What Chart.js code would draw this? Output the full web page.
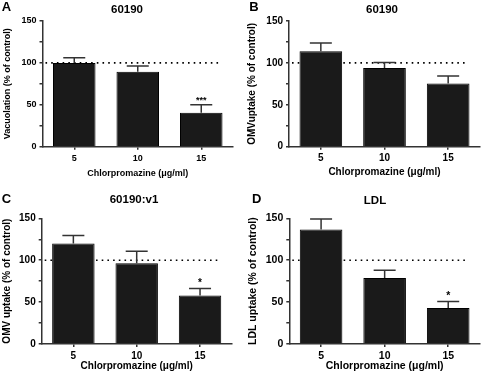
<!DOCTYPE html>
<html>
<head>
<meta charset="utf-8">
<script src="https://cdn.jsdelivr.net/npm/chart.js@4/dist/chart.umd.min.js"></script>
<style>
    html, body { margin: 0; padding: 0; background: #fff; }
    #figure { position: relative; width: 481px; height: 375px; }
    .panel { position: absolute; }
</style>
</head>
<body>
<div id="figure">
    <div class="panel" style="left:0;top:0"><canvas id="panelA" width="240" height="187"></canvas></div>
    <div class="panel" style="left:240px;top:0"><canvas id="panelB" width="241" height="187"></canvas></div>
    <div class="panel" style="left:0;top:187px"><canvas id="panelC" width="240" height="188"></canvas></div>
    <div class="panel" style="left:240px;top:187px"><canvas id="panelD" width="241" height="188"></canvas></div>
</div>
<script>
// chlorpromazine doses (ug/ml)
const doses = ['5', '10', '15'];
const controlLevel = 100;
const yTicks = [0, 50, 100, 150];

// A - vacuolation, strain 60190
const vacuolationMean = [100, 89.3, 40.5];
const vacuolationSem = [6, 7, 9.5];
const vacuolationSig = ['', '', '***'];

// B - OMV uptake, 60190
const omvMean = [114, 94, 75.4];
const omvSem = [9.8, 6.5, 9];
const omvSig = ['', '', ''];

// C - OMV uptake, 60190:v1
const omvV1Mean = [120, 96.4, 58];
const omvV1Sem = [9.4, 14.3, 8.3];
const omvV1Sig = ['', '', '*'];

// D - LDL uptake
const ldlMean = [136.5, 78.9, 42.9];
const ldlSem = [12.7, 9.1, 7.9];
const ldlSig = ['', '', '*'];

const FONT = '"Liberation Sans", Arial, Helvetica, sans-serif';

// dotted line at control level (behind the bars)
const controlLine = {
    id: 'controlLine',
    beforeDatasetsDraw(chart) {
        const {ctx, chartArea, scales} = chart;
        const y = scales.y.getPixelForValue(controlLevel);
        ctx.save();
        ctx.strokeStyle = '#000';
        ctx.lineWidth = 1.6;
        ctx.setLineDash([1.6, 4.1]);
        ctx.beginPath();
        ctx.moveTo(chartArea.left + 3, y);
        ctx.lineTo(chartArea.right - 14, y);
        ctx.stroke();
        ctx.restore();
    }
};

// upper SEM bars + significance stars
const errorBars = {
    id: 'errorBars',
    afterDatasetsDraw(chart, args, opts) {
        const {ctx, scales} = chart;
        const meta = chart.getDatasetMeta(0);
        const values = chart.data.datasets[0].data;
        ctx.save();
        meta.data.forEach((bar, i) => {
            const top = scales.y.getPixelForValue(values[i]);
            const cap = scales.y.getPixelForValue(values[i] + opts.sem[i]);
            ctx.strokeStyle = '#333';
            ctx.lineWidth = 1.5;
            ctx.beginPath();
            ctx.moveTo(bar.x, top);
            ctx.lineTo(bar.x, cap);
            ctx.moveTo(bar.x - 11, cap);
            ctx.lineTo(bar.x + 11, cap);
            ctx.stroke();
            if (opts.sig[i]) {
                ctx.fillStyle = '#000';
                ctx.font = 'bold ' + opts.fontSize + 'px ' + FONT;
                ctx.textAlign = 'center';
                ctx.textBaseline = 'alphabetic';
                ctx.fillText(opts.sig[i], bar.x, cap - 2);
            }
        });
        ctx.restore();
    }
};

// panel letter and panel title
const panelText = {
    id: 'panelText',
    afterDraw(chart, args, opts) {
        const {ctx} = chart;
        ctx.save();
        ctx.fillStyle = '#000';
        ctx.textBaseline = 'middle';
        ctx.textAlign = 'center';
        ctx.font = 'bold 13px ' + FONT;
        ctx.fillText(opts.letter, opts.letterX, opts.letterY);
        ctx.font = 'bold ' + opts.titleSize + 'px ' + FONT;
        ctx.fillText(opts.title, opts.titleX, opts.titleY);
        ctx.restore();
    }
};

function makePanel(id, p) {
    const canvas = document.getElementById(id);
    const W = canvas.width, H = canvas.height;
    const font = {family: FONT, size: p.fontSize, weight: 'bold', lineHeight: 1.2};
    return new Chart(canvas, {
        type: 'bar',
        data: {
            labels: doses,
            datasets: [{
                data: p.mean,
                backgroundColor: '#1a1a1a',
                borderColor: '#000',
                borderWidth: 1,
                barPercentage: 0.67,
                categoryPercentage: 1
            }]
        },
        options: {
            responsive: false,
            animation: false,
            devicePixelRatio: 1,
            layout: {padding: {top: p.area.top, right: W - p.area.right, bottom: 0, left: 0}},
            plugins: {
                legend: {display: false},
                tooltip: {enabled: false},
                errorBars: {sem: p.sem, sig: p.sig, fontSize: p.fontSize},
                panelText: {
                    letter: p.letter, letterX: p.letterPos[0], letterY: p.letterPos[1],
                    title: p.title, titleX: p.titlePos[0], titleY: p.titlePos[1], titleSize: p.titleSize
                }
            },
            scales: {
                x: {
                    grid: {display: true, drawOnChartArea: false, offset: false, tickLength: 3, color: '#333', lineWidth: 1.5},
                    border: {display: true, color: '#333', width: 1.5},
                    ticks: {color: '#000', font: font, padding: 3},
                    title: {display: true, text: 'Chlorpromazine (\u03bcg/ml)', color: '#000', font: font, padding: {top: 0, bottom: p.xTitlePad}},
                    afterFit(scale) { scale.height = H - p.area.bottom; }
                },
                y: {
                    min: 0,
                    max: 150,
                    grid: {display: true, drawOnChartArea: false, tickLength: 3, color: '#333', lineWidth: 1.5},
                    border: {display: true, color: '#333', width: 1.5},
                    ticks: {
                        stepSize: 25,
                        color: '#000',
                        font: font,
                        padding: 3,
                        callback: v => yTicks.includes(v) ? v : ''
                    },
                    title: {display: true, text: p.yTitle, color: '#000', font: font, padding: {top: p.yTitlePad, bottom: 0}},
                    afterFit(scale) { scale.width = p.area.left; }
                }
            }
        },
        plugins: [controlLine, errorBars, panelText]
    });
}

makePanel('panelA', {
    mean: vacuolationMean, sem: vacuolationSem, sig: vacuolationSig,
    letter: 'A', letterPos: [6.5, 7.5], title: '60190', titlePos: [127, 9.5], titleSize: 11.5,
    yTitle: 'Vacuolation (% of control)', fontSize: 9, yTitlePad: 1.8, xTitlePad: 8.5,
    area: {left: 42.5, right: 233, top: 21, bottom: 146.7}
});
makePanel('panelB', {
    mean: omvMean, sem: omvSem, sig: omvSig,
    letter: 'B', letterPos: [14, 7.5], title: '60190', titlePos: [142, 9.5], titleSize: 11.5,
    yTitle: 'OMVuptake (% of control)', fontSize: 10, yTitlePad: 6, xTitlePad: 8.5,
    area: {left: 49, right: 240, top: 21, bottom: 146.7}
});
makePanel('panelC', {
    mean: omvV1Mean, sem: omvV1Sem, sig: omvV1Sig,
    letter: 'C', letterPos: [6.5, 12], title: '60190:v1', titlePos: [134, 13], titleSize: 11.5,
    yTitle: 'OMV uptake (% of control)', fontSize: 10, yTitlePad: 1.5, xTitlePad: 2.5,
    area: {left: 41.7, right: 231.7, top: 31.3, bottom: 157}
});
makePanel('panelD', {
    mean: ldlMean, sem: ldlSem, sig: ldlSig,
    letter: 'D', letterPos: [16.7, 12], title: 'LDL', titlePos: [135, 13.5], titleSize: 11.5,
    yTitle: 'LDL uptake (% of control)', fontSize: 10.5, yTitlePad: 6.5, xTitlePad: 2.5,
    area: {left: 49.3, right: 240, top: 31.3, bottom: 157}
});
</script>
</body>
</html>
